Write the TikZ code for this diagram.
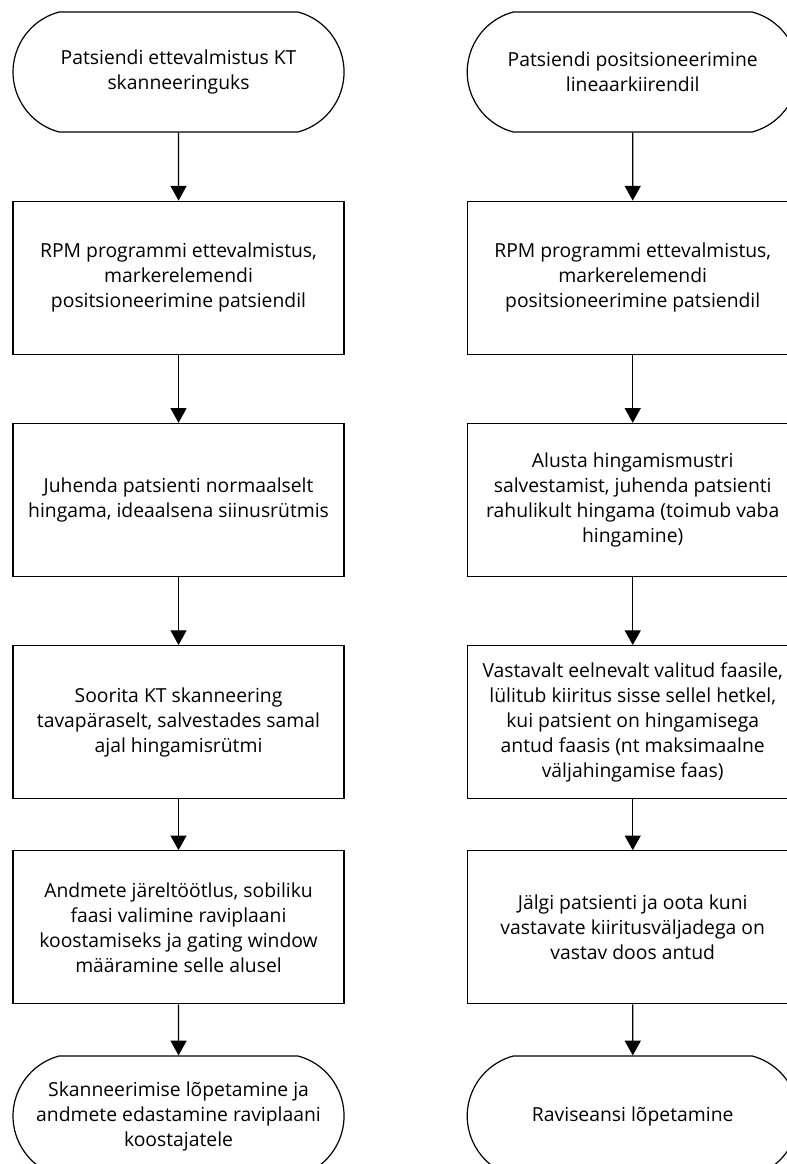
\documentclass[tikz,border=0pt]{standalone}
\usepackage{fontspec}
\setmainfont{Open Sans}
\usepackage{tikz}
\usetikzlibrary{arrows.meta,positioning,shapes.misc}

\begin{document}
\begin{tikzpicture}[node distance=51pt, >={Triangle[width=12pt,length=11pt]}, line width=0.9pt,
    terminal/.style={rounded rectangle, rounded rectangle arc length=150, draw, align=center,
        minimum width=248.25pt, minimum height=90pt, inner sep=0pt,
        font=\fontsize{14.5pt}{18.75pt}\selectfont},
    process/.style={rectangle, draw, align=center, minimum width=248.25pt,
        minimum height=114.75pt, inner sep=0pt, font=\fontsize{14.5pt}{18.75pt}\selectfont}]
    \useasboundingbox (0,0) rectangle (590.25pt,-873pt);

    % vasak veerg: KT skanneering
    \node (startL) [terminal] at (133.9pt,-54pt) {Patsiendi ettevalmistus KT\\skanneeringuks};
    \node (prepL) [process, below=of startL] {RPM programmi ettevalmistus,\\markerelemendi\\positsioneerimine patsiendil};
    \node (breathL) [process, below=of prepL] {Juhenda patsienti normaalselt\\hingama, ideaalsena siinusrütmis};
    \node (scanL) [process, below=of breathL] {Soorita KT skanneering\\tavapäraselt, salvestades samal\\ajal hingamisrütmi};
    \node (procL) [process, below=38.25pt of scanL] {Andmete järeltöötlus, sobiliku\\faasi valimine raviplaani\\koostamiseks ja gating window\\määramine selle alusel};
    \node (endL) [terminal, below=38.25pt of procL] {Skanneerimise lõpetamine ja\\andmete edastamine raviplaani\\koostajatele};

    % parem veerg: kiiritus
    \node (startR) [terminal, right=91.5pt of startL] {Patsiendi positsioneerimine\\lineaarkiirendil};
    \node (prepR) [process, below=of startR] {RPM programmi ettevalmistus,\\markerelemendi\\positsioneerimine patsiendil};
    \node (recR) [process, below=of prepR] {Alusta hingamismustri\\salvestamist, juhenda patsienti\\rahulikult hingama (toimub vaba\\hingamine)};
    \node (beamR) [process, below=of recR] {Vastavalt eelnevalt valitud faasile,\\lülitub kiiritus sisse sellel hetkel,\\kui patsient on hingamisega\\antud faasis (nt maksimaalne\\väljahingamise faas)};
    \node (watchR) [process, below=38.25pt of beamR] {Jälgi patsienti ja oota kuni\\vastavate kiiritusväljadega on\\vastav doos antud};
    \node (endR) [terminal, below=38.25pt of watchR] {Raviseansi lõpetamine};

    \draw [->] (startL) -- (prepL);
    \draw [->] (prepL) -- (breathL);
    \draw [->] (breathL) -- (scanL);
    \draw [->] (scanL) -- (procL);
    \draw [->] (procL) -- (endL);

    \draw [->] (startR) -- (prepR);
    \draw [->] (prepR) -- (recR);
    \draw [->] (recR) -- (beamR);
    \draw [->] (beamR) -- (watchR);
    \draw [->] (watchR) -- (endR);
\end{tikzpicture}
\end{document}
